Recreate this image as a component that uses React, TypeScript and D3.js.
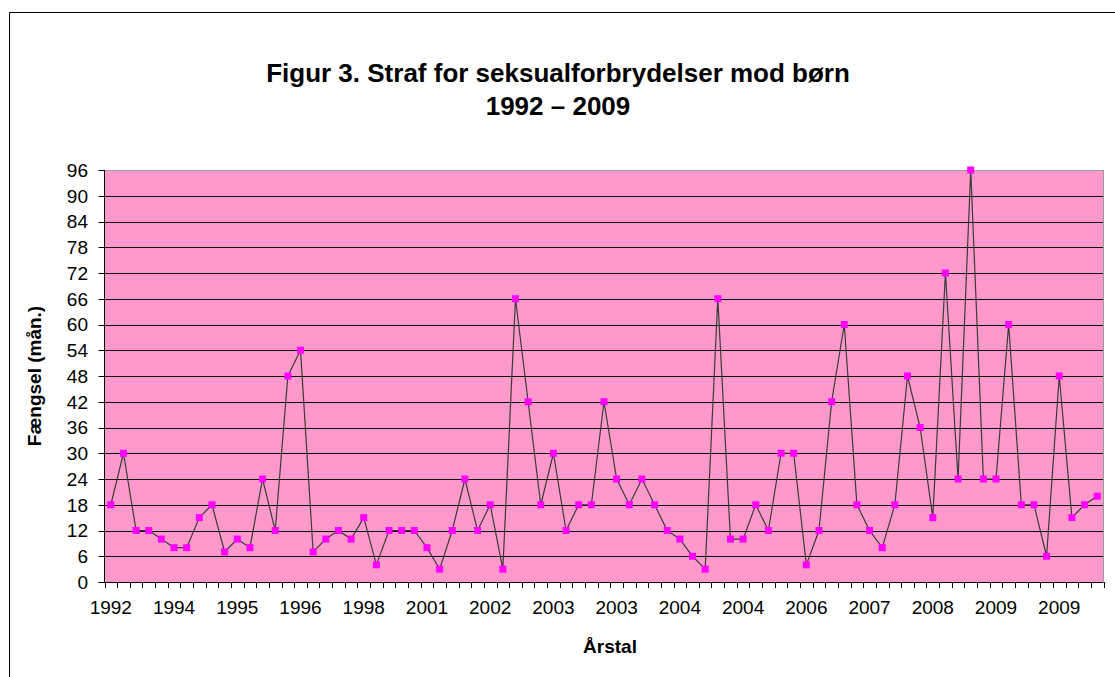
import React from "react";
import * as d3 from "d3";

const titleLines = ["Figur 3. Straf for seksualforbrydelser mod børn", "1992 – 2009"];
const yAxisTitle = "Fængsel (mån.)";
const xAxisTitle = "Årstal";

const values = [
  18, 30, 12, 12, 10, 8, 8, 15, 18, 7, 10, 8, 24, 12, 48, 54, 7, 10, 12, 10,
  15, 4, 12, 12, 12, 8, 3, 12, 24, 12, 18, 3, 66, 42, 18, 30, 12, 18, 18,
  42, 24, 18, 24, 18, 12, 10, 6, 3, 66, 10, 10, 18, 12, 30, 30, 4, 12, 42, 60,
  18, 12, 8, 18, 48, 36, 15, 72, 24, 96, 24, 24, 60, 18, 18, 6, 48, 15, 18, 20,
];

const tickLabels = [
  "1992", "1994", "1995", "1996", "1998", "2001", "2002", "2003",
  "2003", "2004", "2004", "2006", "2007", "2008", "2009", "2009",
];
const labelEvery = 5;
const yTicks = [0, 6, 12, 18, 24, 30, 36, 42, 48, 54, 60, 66, 72, 78, 84, 90, 96];

const W = 1115;
const H = 677;
const plot = { left: 104.5, right: 1103.5, top: 170, bottom: 582 };
const FONT = "'Liberation Sans', Arial, sans-serif";

export default function App() {
  const idx = values.map((_, i) => i);
  const x = d3.scaleBand<number>().domain(idx).range([plot.left, plot.right]).padding(0);
  const y = d3.scaleLinear().domain([0, 96]).range([plot.bottom, plot.top]);
  const bw = x.bandwidth();
  const cx = (i: number) => (x(i) as number) + bw / 2;
  const line = d3
    .line<number>()
    .x((_, i) => cx(i))
    .y((v) => y(v));

  const boundaries = d3.range(values.length + 1).map((i) => plot.left + i * bw);

  return (
    <svg
      width={W}
      height={H}
      style={{ position: "absolute", left: 0, top: 0, background: "#fff" }}
      fontFamily={FONT}
    >
      <rect x={0} y={0} width={W} height={H} fill="#fff" />
      {/* chart area border */}
      <line x1={9.5} y1={12.5} x2={W} y2={12.5} stroke="#000" strokeWidth={1} />
      <line x1={9.5} y1={12.5} x2={9.5} y2={H} stroke="#000" strokeWidth={1} />

      {/* title */}
      {titleLines.map((t, i) => (
        <text
          key={i}
          x={558}
          y={82 + i * 33}
          textAnchor="middle"
          fontSize={26}
          fontWeight="bold"
          fill="#000"
        >
          {t}
        </text>
      ))}

      {/* plot background */}
      <rect
        x={plot.left}
        y={plot.top}
        width={plot.right - plot.left}
        height={plot.bottom - plot.top}
        fill="#FF99CC"
      />
      {/* gridlines */}
      {yTicks
        .filter((t) => t !== 0 && t !== 96)
        .map((t) => (
          <line
            key={t}
            x1={plot.left}
            x2={plot.right}
            y1={Math.round(y(t)) + 0.5}
            y2={Math.round(y(t)) + 0.5}
            stroke="#111"
            strokeWidth={1}
          />
        ))}
      {/* plot border top/right */}
      <line x1={plot.left} x2={plot.right} y1={plot.top + 0.5} y2={plot.top + 0.5} stroke="#9a9a9a" />
      <line x1={plot.right} x2={plot.right} y1={plot.top} y2={plot.bottom} stroke="#9a9a9a" />

      {/* y axis */}
      <line x1={plot.left} x2={plot.left} y1={plot.top} y2={plot.bottom + 0.5} stroke="#000" />
      {yTicks.map((t) => (
        <g key={t}>
          <line
            x1={plot.left - 6}
            x2={plot.left}
            y1={Math.round(y(t)) + 0.5}
            y2={Math.round(y(t)) + 0.5}
            stroke="#000"
          />
          <text x={88} y={y(t)} dy="0.36em" textAnchor="end" fontSize={19} fill="#000">
            {t}
          </text>
        </g>
      ))}

      {/* x axis */}
      <line x1={plot.left - 6} x2={plot.right} y1={plot.bottom + 0.5} y2={plot.bottom + 0.5} stroke="#000" />
      {boundaries.map((bx, i) => (
        <line
          key={i}
          x1={Math.round(bx) + 0.5}
          x2={Math.round(bx) + 0.5}
          y1={plot.bottom}
          y2={plot.bottom + 6}
          stroke="#000"
        />
      ))}
      {tickLabels.map((lab, k) => (
        <text
          key={k}
          x={cx(k * labelEvery)}
          y={614}
          textAnchor="middle"
          fontSize={19}
          fill="#000"
        >
          {lab}
        </text>
      ))}

      {/* series */}
      <path d={line(values) || ""} fill="none" stroke="#3a3a3a" strokeWidth={1.2} />
      {values.map((v, i) => (
        <rect
          key={i}
          x={cx(i) - 3.5}
          y={y(v) - 3.5}
          width={7}
          height={7}
          fill="#FF00FF"
        />
      ))}

      {/* axis titles */}
      <text
        transform={`translate(41, ${(plot.top + plot.bottom) / 2}) rotate(-90)`}
        textAnchor="middle"
        fontSize={19}
        fontWeight="bold"
        fill="#000"
      >
        {yAxisTitle}
      </text>
      <text x={610} y={653} textAnchor="middle" fontSize={19} fontWeight="bold" fill="#000">
        {xAxisTitle}
      </text>
    </svg>
  );
}
